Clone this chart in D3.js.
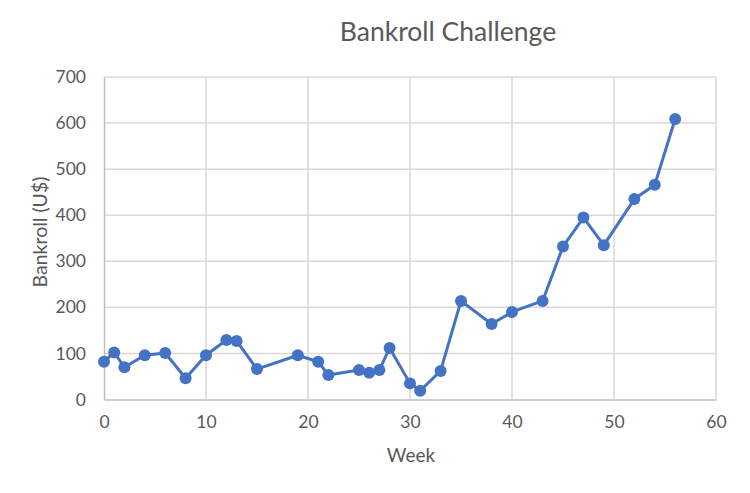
<!DOCTYPE html>
<html>
<head>
<meta charset="utf-8">
<script src="https://cdn.jsdelivr.net/npm/d3@7"></script>
<style>
  body { margin: 0; background: #fff; }
  text { font-family: Lato, "Open Sans", sans-serif; fill: #595959; }
</style>
</head>
<body>
<div id="container"></div>
<script>
var width = 750,
    height = 493;

// data
var weeks =    [0, 1, 2, 4, 6, 8, 10, 12, 13, 15, 19, 21, 22, 25, 26, 27, 28, 30, 31, 33, 35, 38, 40, 43, 45, 47, 49, 52, 54, 56];
var bankroll = [82, 102, 70, 96, 101, 46, 96, 129, 127, 66, 96, 82, 53, 64, 58, 64, 112, 35, 19, 62, 214, 164, 190, 214, 332, 395, 335, 435, 466, 609];
var xTicks = [0, 10, 20, 30, 40, 50, 60];
var yTicks = [0, 100, 200, 300, 400, 500, 600, 700];

var margin = {left: 104, right: 34, top: 77, bottom: 93.5};

var svg = d3.select("#container").append("svg")
    .attr("width", width)
    .attr("height", height);

var x = d3.scaleLinear().domain([0, 60]).range([margin.left, width - margin.right]);
var y = d3.scaleLinear().domain([0, 700]).range([height - margin.bottom, margin.top]);

// gridlines
svg.append("g").selectAll("line.h")
    .data(yTicks.slice(1))
    .enter().append("line")
    .attr("x1", x(0)).attr("x2", x(60))
    .attr("y1", d => y(d)).attr("y2", d => y(d))
    .attr("stroke", "#d9d9d9").attr("stroke-width", 1.5);

svg.append("g").selectAll("line.v")
    .data(xTicks.slice(1))
    .enter().append("line")
    .attr("y1", y(0)).attr("y2", y(700))
    .attr("x1", d => x(d)).attr("x2", d => x(d))
    .attr("stroke", "#d9d9d9").attr("stroke-width", 1.5);

// axes
var xAxis = svg.append("g")
    .attr("transform", "translate(0," + y(0) + ")")
    .call(d3.axisBottom(x).tickValues(xTicks).tickSize(0).tickPadding(16));
var yAxis = svg.append("g")
    .attr("transform", "translate(" + x(0) + ",0)")
    .call(d3.axisLeft(y).tickValues(yTicks).tickSize(0).tickPadding(18));

[xAxis, yAxis].forEach(a => {
    a.select(".domain").attr("stroke", "#bfbfbf").attr("stroke-width", 1.5);
    a.selectAll("text")
        .attr("font-size", 17.5)
        .style("font-family", "Lato, 'Open Sans', sans-serif")
        .attr("fill", "#595959");
});

// line + markers
var line = d3.line()
    .x((d, i) => x(weeks[i]))
    .y(d => y(d));

svg.append("path")
    .datum(bankroll)
    .attr("d", line)
    .attr("fill", "none")
    .attr("stroke", "#4472c4")
    .attr("stroke-width", 3)
    .attr("stroke-linejoin", "round");

svg.append("g").selectAll("circle")
    .data(bankroll)
    .enter().append("circle")
    .attr("cx", (d, i) => x(weeks[i]))
    .attr("cy", d => y(d))
    .attr("r", 6)
    .attr("fill", "#4472c4");

// titles
svg.append("text")
    .attr("x", 448).attr("y", 41)
    .attr("text-anchor", "middle")
    .attr("font-size", 26.5)
    .text("Bankroll Challenge");

svg.append("text")
    .attr("x", 411).attr("y", 462)
    .attr("text-anchor", "middle")
    .attr("font-size", 19)
    .text("Week");

svg.append("text")
    .attr("transform", "translate(47,232) rotate(-90)")
    .attr("text-anchor", "middle")
    .attr("font-size", 19.5)
    .text("Bankroll (U$)");
</script>
</body>
</html>
